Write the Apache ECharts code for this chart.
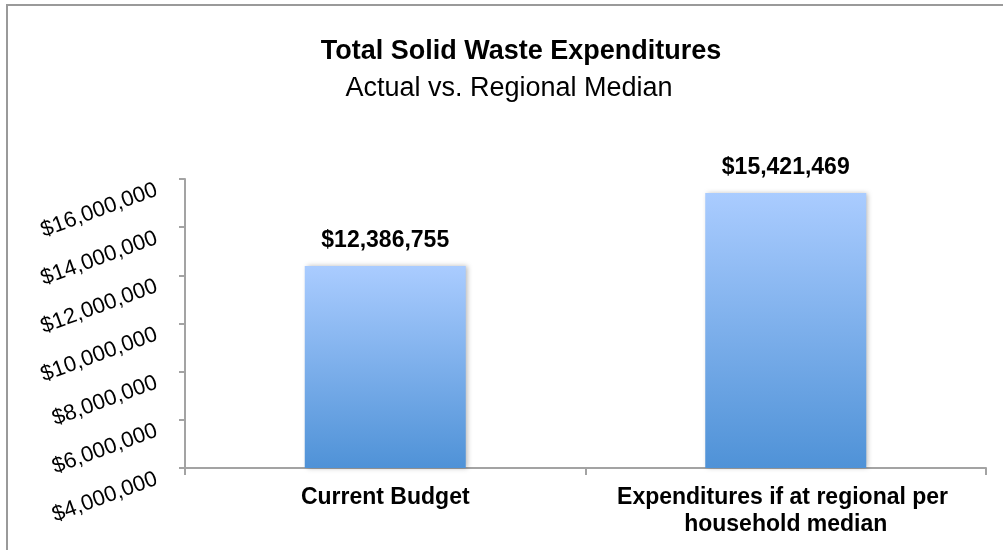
<!DOCTYPE html>
<html>
<head>
<meta charset="utf-8">
<title>Total Solid Waste Expenditures</title>
<script src="https://cdn.jsdelivr.net/npm/echarts@6/dist/echarts.min.js"></script>
<style>
  html, body { margin: 0; padding: 0; background: #fff; }
  #chart { width: 1003px; height: 550px; }
</style>
</head>
<body>
<div id="chart"></div>
<script>
// Categories and spending totals
const categories = ['Current Budget', 'Expenditures if at regional per household median'];
const expenditures = [12386755, 15421469];

// Value axis range
const axisMin = 4000000;
const axisMax = 16000000;
const axisStep = 2000000;

const titleText = 'Total Solid Waste Expenditures';
const subtitleText = 'Actual vs. Regional Median';

const FONT = '"Liberation Sans", Arial, Helvetica, sans-serif';
const AXIS_GREY = '#a3a3a3';

function money(v) {
  return '$' + Math.round(v).toLocaleString('en-US');
}

const chart = echarts.init(document.getElementById('chart'), null, { renderer: 'canvas' });

chart.setOption({
  animation: false,
  backgroundColor: '#ffffff',
  textStyle: { fontFamily: FONT },
  graphic: [{
    type: 'rect',
    shape: { x: 7, y: 5, width: 1100, height: 700 },
    style: { fill: 'none', stroke: '#9a9a9a', lineWidth: 2 },
    silent: true,
    z: -1
  }],
  title: [
    {
      text: titleText,
      left: 516,
      top: 32,
      textAlign: 'center',
      textStyle: { fontFamily: FONT, fontSize: 27, fontWeight: 'bold', color: '#000', lineHeight: 30 }
    },
    {
      text: subtitleText,
      left: 504,
      top: 69,
      textAlign: 'center',
      textStyle: { fontFamily: FONT, fontSize: 27, fontWeight: 'normal', color: '#000', lineHeight: 30 }
    }
  ],
  grid: {
    left: 185,
    right: 17,
    top: 179,
    bottom: 82,
    containLabel: false,
    outerBoundsMode: 'none'
  },
  xAxis: {
    type: 'category',
    data: categories,
    axisLine: { show: true, lineStyle: { color: AXIS_GREY, width: 2 } },
    axisTick: { show: true, length: 7, alignWithLabel: false, lineStyle: { color: AXIS_GREY, width: 2 } },
    axisLabel: {
      interval: 0,
      margin: 16,
      color: '#000',
      fontFamily: FONT,
      fontSize: 23,
      fontWeight: 'bold',
      lineHeight: 27,
      width: 380,
      overflow: 'break',
      align: 'center'
    },
    splitLine: { show: false }
  },
  yAxis: {
    type: 'value',
    min: axisMin,
    max: axisMax,
    interval: axisStep,
    axisLine: { show: true, lineStyle: { color: AXIS_GREY, width: 2 } },
    axisTick: { show: true, length: 6, inside: false, lineStyle: { color: AXIS_GREY, width: 2 } },
    splitLine: { show: false },
    axisLabel: {
      rotate: 20,
      margin: 32,
      color: '#000',
      fontFamily: FONT,
      fontSize: 22,
      verticalAlign: 'top',
      formatter: money
    }
  },
  series: [{
    type: 'bar',
    data: expenditures,
    barWidth: 161,
    itemStyle: {
      color: new echarts.graphic.LinearGradient(0, 0, 0, 1, [
        { offset: 0, color: '#aaccff' },
        { offset: 1, color: '#4f92d7' }
      ]),
      shadowColor: 'rgba(0, 0, 0, 0.28)',
      shadowBlur: 5,
      shadowOffsetX: 2,
      shadowOffsetY: 0
    },
    label: {
      show: true,
      position: 'top',
      distance: 13,
      color: '#000',
      fontFamily: FONT,
      fontSize: 23,
      fontWeight: 'bold',
      lineHeight: 24,
      formatter: p => money(p.value)
    }
  }]
});
</script>
</body>
</html>
